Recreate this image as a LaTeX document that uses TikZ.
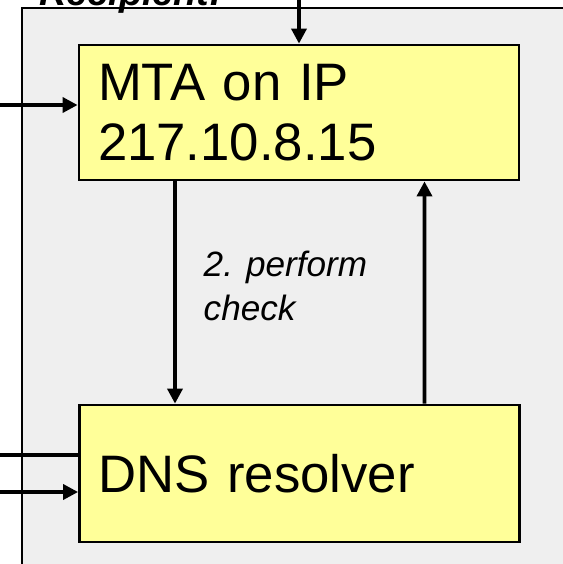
\documentclass[tikz,border=0pt]{standalone}
\usepackage{fontspec}
\setmainfont{Liberation Sans}
\usetikzlibrary{arrows.meta,calc}
\definecolor{boxyellow}{HTML}{FFFF99}
\definecolor{zonegray}{HTML}{EFEFEF}

\begin{document}
\begin{tikzpicture}[
		hostbox/.style={draw=black, line width=1.6pt, fill=boxyellow, minimum width=8.8cm, text width=8.04cm, inner xsep=0.38cm, align=left, font=\fontsize{30}{34.5}\selectfont},
		flow/.style={line width=2pt, -{Triangle[length=8.5pt,width=8.5pt]}},
		wire/.style={line width=2pt}
	]
		\useasboundingbox (0,0) rectangle (11.26,-11.28);
		\filldraw[fill=zonegray, draw=black, line width=1.1pt] (0.44,-0.16) rectangle (12,-12);
		\node[anchor=base west, font=\fontsize{21.5}{24}\selectfont\bfseries\itshape] (title) at (0.66,-0.1) {Recipient:};
		\node[hostbox, minimum height=2.7cm] (mta) at (5.98,-2.25) {MTA on IP\\217.10.8.15};
		\node[hostbox, minimum height=2.74cm] (dns) at (5.99,-9.47) {DNS resolver};
		\node[anchor=base west, align=left, font=\fontsize{20}{25}\selectfont\itshape] (check) at (3.95,-6.4) {2. perform\\check};
		\coordinate (top) at (5.98,0.3);
		\coordinate (inmta) at (-0.2,-2.1);
		\coordinate (outdns) at (-0.2,-9.1);
		\coordinate (indns) at (-0.2,-9.84);
		\draw[flow] (top) -- (mta.north);
		\draw[flow] (inmta) -- (inmta -| mta.west);
		\draw[flow] ($(mta.south)+(-2.48,0)$) -- ($(dns.north)+(-2.49,0)$);
		\draw[flow] ($(dns.north)+(2.5,0)$) -- ($(mta.south)+(2.51,0)$);
		\draw[wire] (outdns -| dns.west) -- (outdns);
		\draw[flow] (indns) -- (indns -| dns.west);
	\end{tikzpicture}
\end{document}
